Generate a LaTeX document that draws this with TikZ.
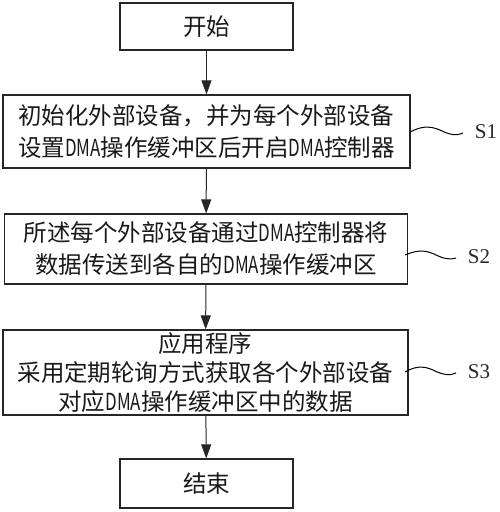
\documentclass[tikz,border=0pt]{standalone}
\usepackage{fontspec}
\usepackage{graphicx}
\newfontfamily\cjk{Noto Sans CJK SC}
\setmainfont{Liberation Serif}
\newcommand{\dmatxt}{\scalebox{0.72}[1]{DMA}}
\usetikzlibrary{arrows.meta}
\begin{document}
\begin{tikzpicture}[x=1pt,y=-1pt,
  box/.style={draw=black!85,line width=1.2pt,inner sep=0pt,align=center,
    font=\cjk\fontsize{23.5}{32}\selectfont,text=black!90},
  arr/.style={draw=black!85,line width=1pt,-{Triangle[length=14pt,width=10pt]}},
  wave/.style={draw=black,line width=1pt},
  lbl/.style={font=\fontsize{21}{24}\selectfont,text=black!85,inner sep=0pt}]
\useasboundingbox (0,0) rectangle (500,512);
\node[box,minimum width=173pt,minimum height=47pt] (start) at (206.5,26.5) {开始};
\node[box,minimum width=407pt,minimum height=73pt] (s1) at (206.5,131.5)
  {初始化外部设备，并为每个外部设备\\设置\dmatxt 操作缓冲区后开启\dmatxt 控制器};
\node[box,minimum width=403pt,minimum height=70pt] (s2) at (206,249)
  {所述每个外部设备通过\dmatxt 控制器将\\数据传送到各自的\dmatxt 操作缓冲区};
\node[box,minimum width=405pt,minimum height=85pt] (s3) at (205.5,372.5)
  {应用程序\\[-3pt]采用定期轮询方式获取各个外部设备\\[-3pt]对应\dmatxt 操作缓冲区中的数据};
\node[box,minimum width=173pt,minimum height=49pt] (end) at (206.5,483.5) {结束};
\draw[arr] (start) -- (s1);
\draw[arr] (s1) -- (s2);
\draw[arr] (s2) -- (s3);
\draw[arr] (s3) -- (end);
\node[lbl] (l1) at (486,132) {S1};
\node[lbl] (l2) at (479,257) {S2};
\node[lbl] (l3) at (479,372) {S3};
\coordinate (w1) at (410,132);
\coordinate (w2) at (405,255);
\coordinate (w3) at (405,372);
\draw[wave] (w1) .. controls (420,127) and (428,125) .. (440,130)
  .. controls (450,135) and (456,136) .. (463,133);
\draw[wave] (w2) .. controls (415,251) and (423,249) .. (434,254)
  .. controls (444,259) and (450,260) .. (456,258);
\draw[wave] (w3) .. controls (414,367) and (422,365) .. (433,370)
  .. controls (443,375) and (450,376) .. (456,373);
\end{tikzpicture}
\end{document}
